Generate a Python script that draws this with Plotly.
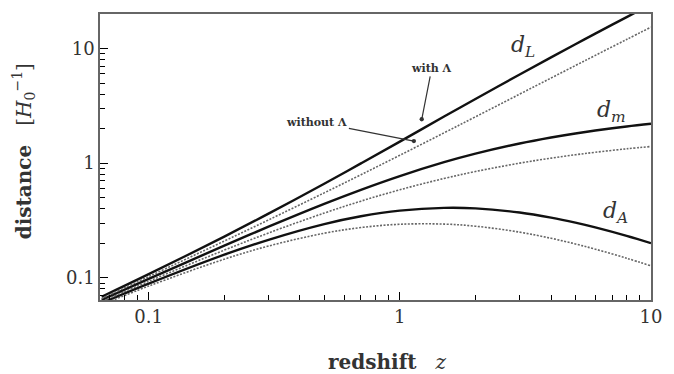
import plotly.graph_objects as go
import numpy as np

# redshift samples
z = [0.065, 0.1, 0.2, 0.3, 0.5, 0.7, 1, 1.5, 2, 3, 4, 5, 6, 8, 10]

# distances in units of 1/H0, flat model with Lambda (solid)
dL_lam = [0.0683, 0.1075, 0.2288, 0.3626, 0.6615, 0.9945, 1.542, 2.548, 3.630, 5.936, 8.37, 10.90, 13.48, 18.80, 24.26]
dm_lam = [0.0641, 0.0977, 0.1907, 0.2789, 0.441, 0.585, 0.771, 1.019, 1.210, 1.484, 1.674, 1.816, 1.926, 2.089, 2.205]
dA_lam = [0.0602, 0.0888, 0.1589, 0.2145, 0.294, 0.3441, 0.3855, 0.4076, 0.4033, 0.371, 0.3348, 0.3027, 0.2751, 0.2321, 0.2005]

# distances without Lambda (dotted)
dL_nolam = [0.0660, 0.1024, 0.2092, 0.3197, 0.5505, 0.7924, 1.1716, 1.8378, 2.5359, 4.0, 5.528, 7.101, 8.709, 12.0, 15.367]
dm_nolam = [0.0620, 0.0931, 0.1743, 0.2459, 0.3670, 0.4661, 0.5858, 0.7351, 0.8453, 1.0, 1.1056, 1.1835, 1.2441, 1.3333, 1.3970]
dA_nolam = [0.0582, 0.0846, 0.1453, 0.1892, 0.2447, 0.2742, 0.2929, 0.2940, 0.2818, 0.25, 0.2211, 0.1973, 0.1777, 0.1481, 0.1270]

W, H = 674, 374
ML, MR, MT, MB = 100, 14, 12, 74
PW, PH = W - ML - MR, H - MT - MB

def px(x, y):
    return (x - ML) / PW, (H - MB - y) / PH

SERIF = "DejaVu Serif"
TXT = "#333333"

fig = go.Figure()
for d in (dL_lam, dm_lam, dA_lam):
    fig.add_trace(go.Scatter(x=z, y=d, mode="lines", line=dict(color="#111111", width=2.4, shape="spline"),
                             showlegend=False, hoverinfo="skip"))
for d in (dL_nolam, dm_nolam, dA_nolam):
    fig.add_trace(go.Scatter(x=z, y=d, mode="lines",
                             line=dict(color="#666666", width=1.6, dash="2px,1.5px", shape="spline"),
                             showlegend=False, hoverinfo="skip"))

# decade ticks with labels, plus unlabelled 2..9 minor ticks
axis_common = dict(type="log", dtick=1, showline=True, linecolor="#666666", linewidth=1.5, mirror=True,
                   ticks="inside", tickcolor="black",
                   minor=dict(ticks="inside", ticklen=5, tickcolor="black", dtick="D1"),
                   tickfont=dict(family=SERIF, size=18, color=TXT))
fig.update_xaxes(range=[np.log10(0.064), 1], ticklen=8, **axis_common)
fig.update_yaxes(range=[np.log10(0.064), np.log10(20)], ticklen=8, **axis_common)

ann = []
def label(x, y, text, size, **kw):
    xp, yp = px(x, y)
    ann.append(dict(x=xp, y=yp, xref="paper", yref="paper", text=text, showarrow=False,
                    xanchor="center", yanchor="middle",
                    font=dict(family=SERIF, size=size, color=TXT), **kw))

def pointer(text, tx, ty, hx, hy):
    xp, yp = px(hx, hy)
    ann.append(dict(x=xp, y=yp, xref="paper", yref="paper", text=text, showarrow=True,
                    ax=tx - hx, ay=ty - hy, arrowhead=6, arrowsize=0.9, arrowwidth=1.2,
                    arrowcolor="#333333", font=dict(family=SERIF, size=11, color=TXT)))

label(530, 45, "<i>d<sub>L</sub></i>", 22)
label(620, 110, "<i>d<sub>m</sub></i>", 22)
label(624, 212, "<i>d<sub>A</sub></i>", 22)
pointer("<b>with Λ</b>", 437, 67, 427, 118)
pointer("<b>without Λ</b>", 322, 121, 419, 140)
label(392, 362, "<b>redshift</b>   <i>z</i>", 20)
label(22, 150, "<b>distance</b>   [<i>H</i><sub>0</sub><sup>−1</sup>]", 20, textangle=-90)
fig.update_layout(annotations=ann)

fig.update_layout(width=W, height=H, margin=dict(l=ML, r=MR, t=MT, b=MB),
                  paper_bgcolor="white", plot_bgcolor="white")
fig.write_html("out.html")
